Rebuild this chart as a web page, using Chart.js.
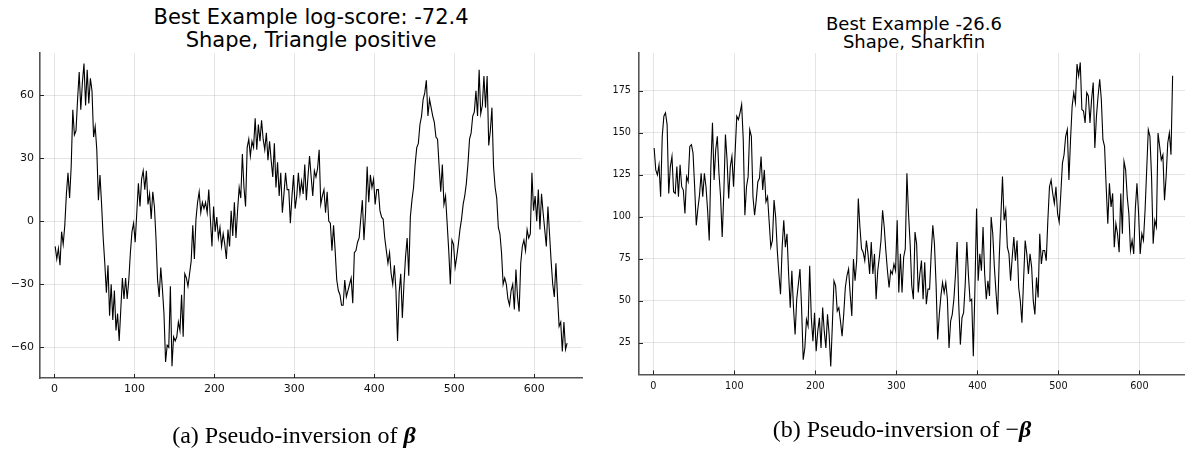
<!DOCTYPE html>
<html>
<head>
<meta charset="utf-8">
<title>Best Example pseudo-inversions</title>
<script src="https://cdn.jsdelivr.net/npm/chart.js@4.4.1/dist/chart.umd.min.js"></script>
<style>
  html, body { margin: 0; padding: 0; background: #fff; }
  body { position: relative; width: 1185px; height: 451px; overflow: hidden; }
  canvas { position: absolute; top: 0; }
  .title { position: absolute; text-align: center; font-family: "DejaVu Sans", sans-serif; color: #000; white-space: pre; }
  .caption { position: absolute; text-align: center; font-family: "Liberation Serif", "DejaVu Serif", serif; font-size: 24px; line-height: 28px; color: #000; }
</style>
</head>
<body>

<div class="title" style="left:40px; width:542px; top:6px; font-size:21px; line-height:23px;">Best Example log-score: -72.4
Shape, Triangle positive</div>
<div class="title" style="left:639px; width:550px; top:15px; font-size:18px; line-height:17.5px;">Best Example -26.6
Shape, Sharkfin</div>

<canvas id="leftChart" width="592" height="451" style="left:0px; width:592px; height:451px;"></canvas>
<canvas id="rightChart" width="600" height="451" style="left:595px; width:600px; height:451px;"></canvas>

<div class="caption" style="left:0px; width:588px; top:421px;">(a) Pseudo-inversion of <b><i>β</i></b></div>
<div class="caption" style="left:652px; width:500px; top:415px;">(b) Pseudo-inversion of −<b><i>β</i></b></div>

<script>
// sample index of the first value and spacing between values
const X_START = 1;
const X_STEP = 2;

// x tick labels (shared by both panels)
const xTicks = [0, 100, 200, 300, 400, 500, 600];

// (a) Triangle positive
const leftTicks = [-60, -30, 0, 30, 60];
const leftValues = [
  -12, -18, -13, -21, -5, -11, -2, 13, 23, 11,
  26, 53, 41, 43, 58, 71, 53, 66, 75, 55,
  72, 56, 68, 62, 40, 45, 34, 10, 22, 8,
  -8, -20, -34, -21, -45, -30, -47, -33, -52, -44,
  -57, -42, -27, -37, -27, -37, -28, -15, -5, -1,
  -10, 4, 18, 7, 20, 24, 15, 24, 8, 13,
  1, 14, 7, -8, -28, -36, -22, -32, -44, -67,
  -59, -60, -31, -69, -55, -57, -55, -48, -52, -35,
  -55, -25, -27, -31, -25, -19, -2, -18, 1, 9,
  14, 4, 9, 6, 9, 4, 15, 1, -12, 7,
  -5, 2, -8, -3, -12, -6, -11, -18, -4, -12,
  5, -7, 9, -8, 5, 16, 11, 32, 16, 7,
  35, 39, 31, 38, 35, 49, 34, 46, 38, 48,
  39, 34, 42, 29, 38, 29, 21, 37, 16, 28,
  12, 23, 4, 13, 23, 15, 15, -1, 12, 22,
  6, 12, 23, 13, 19, 13, 27, 10, 21, 31,
  21, 12, 24, 21, 25, 34, 8, 12, 15, 4,
  14, 0, -1, -14, -2, -14, -28, -33, -35, -40,
  -40, -28, -36, -33, -30, -27, -39, -15, -14, -10,
  -8, 1, 10, -9, 4, 26, 9, 22, 16, 20,
  8, 15, 15, 5, 2, 1, -8, -14, -20, -15,
  -25, -30, -21, -33, -57, -34, -25, -46, -30, -17,
  -8, -26, 2, 10, 16, 27, 35, 37, 46, 50,
  58, 61, 67, 50, 58, 54, 50, 47, 40, 39,
  26, 14, 27, 8, 12, -1, -14, -30, -9, -11,
  -22, -17, -11, -4, 1, 8, 12, 18, 27, 39,
  42, 50, 52, 62, 50, 72, 51, 55, 69, 54,
  69, 36, 43, 54, 26, 16, 11, -3, -6, -15,
  -30, -27, -30, -37, -40, -33, -30, -42, -23, -36,
  -43, -20, -12, -9, -14, -4, -8, -6, 23, 5,
  12, 0, 15, -4, 13, 4, -4, -12, 7, -6,
  -19, -30, -36, -20, -36, -50, -48, -62, -48, -61,
  -58
];

// (b) Sharkfin
const rightTicks = [25, 50, 75, 100, 125, 150, 175];
const rightValues = [
  141, 128, 125, 131, 112, 148, 160, 162, 155, 114,
  130, 136, 115, 114, 130, 112, 131, 118, 116, 102,
  124, 121, 142, 143, 138, 118, 95, 105, 113, 126,
  112, 126, 118, 104, 86, 130, 156, 122, 140, 148,
  126, 112, 88, 114, 149, 134, 111, 130, 136, 118,
  139, 160, 158, 162, 167, 146, 101, 118, 124, 152,
  148, 112, 101, 110, 121, 123, 136, 116, 128, 109,
  112, 97, 82, 86, 110, 100, 80, 66, 54, 82,
  98, 82, 90, 66, 46, 68, 46, 30, 51, 60,
  69, 46, 15, 22, 39, 35, 71, 40, 26, 43,
  20, 32, 40, 22, 46, 32, 22, 42, 30, 11,
  36, 62, 59, 44, 46, 38, 29, 42, 58, 65,
  69, 54, 41, 75, 62, 74, 111, 94, 81, 79,
  74, 86, 78, 66, 85, 66, 78, 51, 68, 76,
  86, 104, 94, 80, 68, 58, 68, 66, 72, 68,
  98, 55, 78, 55, 76, 81, 126, 102, 84, 59,
  51, 91, 84, 55, 66, 74, 51, 73, 48, 57,
  57, 78, 95, 84, 60, 27, 42, 53, 61, 55,
  61, 51, 22, 38, 42, 51, 66, 85, 48, 24,
  40, 43, 60, 85, 65, 50, 51, 17, 58, 105,
  62, 78, 68, 94, 66, 51, 62, 53, 100, 90,
  70, 55, 42, 76, 100, 124, 98, 104, 82, 78,
  62, 76, 88, 74, 86, 58, 50, 37, 62, 86,
  78, 66, 78, 70, 50, 42, 64, 52, 90, 72,
  80, 80, 74, 98, 118, 122, 114, 108, 118, 102,
  97, 114, 132, 137, 148, 152, 122, 146, 166, 174,
  168, 191, 184, 192, 164, 163, 156, 174, 172, 156,
  170, 180, 141, 160, 172, 182, 170, 146, 142, 118,
  96, 120, 106, 114, 82, 96, 90, 79, 114, 90,
  133, 128, 112, 102, 80, 86, 78, 105, 120, 102,
  78, 90, 86, 104, 128, 152, 148, 124, 84, 98,
  94, 150, 142, 134, 137, 110, 124, 144, 150, 137,
  184
];

const SPINE = '#555';
const GRID = 'rgba(0,0,0,0.1)';

// short tick marks drawn on the inside of the axes, like the original plot
const innerTicks = {
  id: 'innerTicks',
  afterDraw(chart) {
    const c = chart.ctx, a = chart.chartArea;
    c.save();
    c.strokeStyle = '#222';
    c.lineWidth = 1;
    c.beginPath();
    chart.scales.x.ticks.forEach(t => {
      const px = Math.round(chart.scales.x.getPixelForValue(t.value)) + 0.5;
      c.moveTo(px, a.bottom);
      c.lineTo(px, a.bottom - 4);
    });
    chart.scales.y.ticks.forEach(t => {
      const py = Math.round(chart.scales.y.getPixelForValue(t.value)) + 0.5;
      c.moveTo(a.left, py);
      c.lineTo(a.left + 4, py);
    });
    c.stroke();
    c.restore();
  }
};

function minusLabel(v) {
  return v < 0 ? '\u2212' + Math.abs(v) : String(v);
}

function makeChart(id, values, yTicks, opt) {
  const points = values.map((v, i) => ({ x: X_START + i * X_STEP, y: v }));
  return new Chart(document.getElementById(id), {
    type: 'line',
    data: {
      datasets: [{
        data: points,
        borderColor: '#000',
        borderWidth: 1.1,
        pointRadius: 0,
        tension: 0,
        fill: false
      }]
    },
    options: {
      responsive: false,
      animation: false,
      events: [],
      layout: { padding: opt.padding },
      plugins: { legend: { display: false }, tooltip: { enabled: false } },
      scales: {
        x: {
          type: 'linear',
          min: opt.xMin, max: opt.xMax,
          afterBuildTicks: s => { s.ticks = xTicks.map(v => ({ value: v })); },
          afterFit: s => { s.height = 30; },
          grid: { color: GRID, lineWidth: 1, drawTicks: false },
          border: { color: SPINE, width: 1.6 },
          ticks: {
            padding: opt.xPad, maxRotation: 0, autoSkip: false, color: '#111',
            font: { family: 'DejaVu Sans', size: opt.tickSize },
            callback: v => minusLabel(v)
          }
        },
        y: {
          type: 'linear',
          min: opt.yMin, max: opt.yMax,
          afterBuildTicks: s => { s.ticks = yTicks.map(v => ({ value: v })); },
          afterFit: s => { s.width = opt.yWidth; },
          grid: { color: GRID, lineWidth: 1, drawTicks: false },
          border: { color: SPINE, width: 1.6 },
          ticks: {
            padding: opt.yPad, autoSkip: false, color: '#111',
            font: { family: 'DejaVu Sans', size: opt.tickSize },
            callback: v => minusLabel(v)
          }
        }
      }
    },
    plugins: [innerTicks]
  });
}

// left panel: plot area roughly x 40..582, y 53..378
makeChart('leftChart', leftValues, leftTicks, {
  padding: { left: 0, top: 53, right: 10, bottom: 43 },
  xMin: -18, xMax: 659.6,
  yMin: -74.6, yMax: 80,
  yWidth: 40, yPad: 6, xPad: 5, tickSize: 11
});

// right panel: plot area roughly x 639..1188 (cut at page edge), y 53..374
makeChart('rightChart', rightValues, rightTicks, {
  padding: { left: 0, top: 53, right: 7, bottom: 46.5 },
  xMin: -17.7, xMax: 660,
  yMin: 6.2, yMax: 197.6,
  yWidth: 44, yPad: 8, xPad: 6, tickSize: 9.7
});
</script>
</body>
</html>
